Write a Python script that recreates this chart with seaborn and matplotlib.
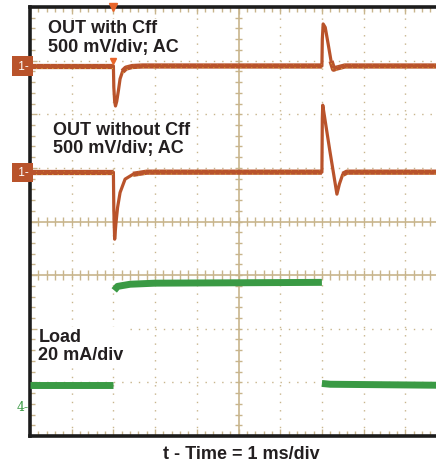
import matplotlib
matplotlib.use("Agg")
import matplotlib.pyplot as plt
import matplotlib.transforms as mtransforms
import seaborn as sns
import numpy as np
import pandas as pd

# ---------------- data ----------------
# OUT with Cff : time (ms), AC deviation (mV), 500 mV/div
t_with = [0.0, 2.0, 2.01, 2.03, 2.05, 2.08, 2.12, 2.16, 2.22, 2.3, 2.45, 2.7, 7.0, 7.01, 7.03, 7.08, 7.15, 7.22, 7.28, 7.35, 7.55, 10.0]
mv_with = [0, 0, -200, -330, -373, -330, -230, -120, -50, -20, -5, 0, 0, 250, 392, 360, 205, 45, -30, -20, 0, 0]

# OUT without Cff : time (ms), AC deviation (mV), 500 mV/div
t_without = [0.0, 2.0, 2.01, 2.03, 2.06, 2.1, 2.16, 2.28, 2.47, 2.8, 7.0, 7.01, 7.02, 7.19, 7.36, 7.42, 7.5, 7.6, 10.0]
mv_without = [0, 0, -350, -625, -480, -330, -190, -65, -20, 0, 0, 500, 625, 200, -205, -110, -20, 0, 0]

# Load current : time (ms), current (mA), 20 mA/div, segment id (steps are not drawn)
t_load = [0.0, 2.0, 2.02, 2.1, 2.4, 3.0, 7.0, 7.0, 7.2, 10.0]
ma_load = [8.2, 8.2, 43.3, 44.8, 45.6, 46.0, 46.3, 8.6, 8.3, 7.9]
seg_load = [0, 0, 1, 1, 1, 1, 1, 2, 2, 2]

labels_with = ["OUT with Cff", "500 mV/div; AC"]
labels_without = ["OUT without Cff", "500 mV/div; AC"]
labels_load = ["Load", "20 mA/div"]
xlabel = "t - Time = 1 ms/div"

# ---------------- style ----------------
sns.set_style("white")
plt.rcParams['font.family'] = ['Liberation Sans', 'DejaVu Sans']

RUST = "#b9532b"
YEL = "#e8c53a"
GREEN = "#3a9a44"
TAN = "#c8b58c"
TXT = "#231f20"

off_with, off_without = 2.90, 0.92     # channel 1 positions (div)
off_load = -3.45                        # channel 4 position (div)

df_with = pd.DataFrame({"t": t_with, "div": off_with + np.array(mv_with) / 500.0, "mv": mv_with})
df_without = pd.DataFrame({"t": t_without, "div": off_without + np.array(mv_without) / 500.0, "mv": mv_without})
df_load = pd.DataFrame({"t": t_load, "div": off_load + np.array(ma_load) / 20.0, "seg": seg_load})

fig = plt.figure(figsize=(4.36, 4.64), dpi=100)
ax = fig.add_axes([30 / 436, 27 / 464, 417 / 436, 429 / 464])
ax.set_xlim(0, 10)
ax.set_ylim(-4, 4)

# grid: dotted lines at every division
for xv in range(1, 10):
    if xv != 5:
        ax.axvline(xv, color=TAN, lw=1.0, ls=(0, (1, 5)), zorder=1)
for yv in range(-3, 4):
    if yv not in (0, -1):
        ax.axhline(yv, color=TAN, lw=1.0, ls=(0, (1, 5)), zorder=1)

# solid centre lines with minor ticks
ax.axvline(5, color=TAN, lw=1.2, zorder=1)
for yv in (0, -1):
    ax.axhline(yv, color=TAN, lw=1.2, zorder=1)
minor_x = np.arange(0, 10.01, 0.2)
minor_y = np.arange(-4, 4.01, 0.2)
for yv in (0, -1):
    ax.vlines(minor_x, yv - 0.09, yv + 0.09, color=TAN, lw=1.0, zorder=1)
ax.hlines(minor_y, 5 - 0.08, 5 + 0.08, color=TAN, lw=1.0, zorder=1)

# traces: transient line + thick noise band on the (nearly) flat runs
def flat_runs(d, lim=50):
    runs, cur = [], []
    for i in range(len(d) - 1):
        if abs(d["mv"].iloc[i]) <= lim and abs(d["mv"].iloc[i + 1]) <= lim:
            if not cur:
                cur = [i]
            cur.append(i + 1)
        else:
            if cur:
                runs.append(d.iloc[cur])
            cur = []
    if cur:
        runs.append(d.iloc[cur])
    return runs

for d in (df_with, df_without):
    sns.lineplot(data=d, x="t", y="div", ax=ax, color=RUST, lw=2.3, estimator=None, sort=False, zorder=3)
    for s in flat_runs(d):
        ax.plot(s["t"], s["div"], color=RUST, lw=3.8, solid_capstyle="butt", solid_joinstyle="round", zorder=3)
        ax.plot(s["t"], s["div"] - 0.035, color=YEL, lw=0.6, ls=(0, (1.5, 5)), alpha=0.8, zorder=4)
        ax.plot(s["t"], s["div"] + 0.03, color=YEL, lw=0.5, ls=(2, (1, 9)), alpha=0.6, zorder=4)

n_before = len(ax.lines)
sns.lineplot(data=df_load, x="t", y="div", units="seg", ax=ax, color=GREEN, lw=5.0,
             estimator=None, sort=False, zorder=3)
for ln in ax.lines[n_before:]:
    ln.set_solid_capstyle("butt")

# border, ticks
for s in ax.spines.values():
    s.set_color("#1c1c1c")
    s.set_linewidth(2.6)
ax.set_xticks(range(0, 11))
ax.set_yticks(range(-4, 5))
ax.set_xticks(minor_x, minor=True)
ax.set_yticks(minor_y, minor=True)
ax.tick_params(which="both", direction="in", top=True, right=True, bottom=True, left=True,
               color=TAN, labelbottom=False, labelleft=False, width=1.0)
ax.tick_params(which="major", length=5)
ax.tick_params(which="minor", length=3.5)
ax.set_xlabel("")
ax.set_ylabel("")

# text labels
def lab(x, y, lines):
    ax.text(x, y, "\n".join(lines), fontsize=13.0, fontweight="bold", color=TXT,
            ha="left", va="top", linespacing=1.1, zorder=5,
            bbox=dict(facecolor="white", edgecolor="none", pad=0.5))

lab(0.42, 3.77, labels_with)
lab(0.54, 1.88, labels_without)
lab(0.2, -1.98, labels_load)

fig.text(241 / 436, 5 / 464, xlabel, fontsize=13.0, fontweight="bold", color=TXT, ha="center", va="baseline")

# trigger markers
ax.plot([2.0], [4.0], marker="v", color="#e8652a", ms=6, clip_on=False, zorder=6)
ax.plot([2.0], [off_with + 0.1], marker="v", color="#e8652a", ms=5, zorder=6)

# channel markers
trans = mtransforms.blended_transform_factory(ax.transAxes, ax.transData)
for yv in (off_with, off_without):
    ax.text(-0.002, yv, " 1-", transform=trans, ha="right", va="center", fontsize=8.5, color="white",
            bbox=dict(facecolor=RUST, edgecolor="none", boxstyle="square,pad=0.3"), clip_on=False, zorder=6)
ax.text(-0.004, off_load, "4-", transform=trans, ha="right", va="center", fontsize=9, color=GREEN,
        family="DejaVu Serif", clip_on=False)

fig.savefig("out.png", dpi=100)
